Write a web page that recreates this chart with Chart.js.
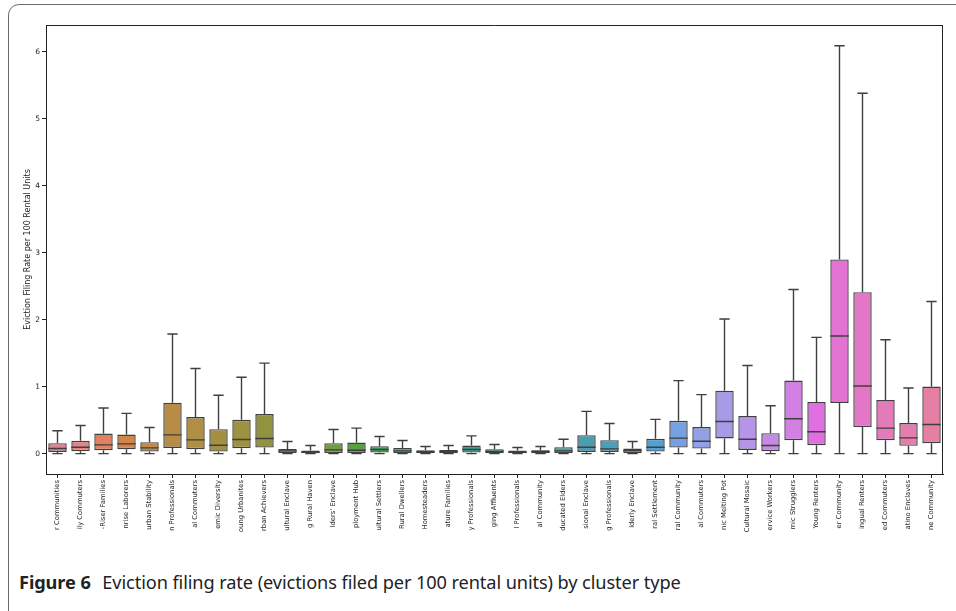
<!DOCTYPE html>
<html>
<head>
<meta charset="utf-8">
<script src="https://cdn.jsdelivr.net/npm/chart.js@4.4.1/dist/chart.umd.min.js"></script>
<style>
  html,body{margin:0;padding:0;background:#fff;width:956px;height:611px;overflow:hidden;}
  #frame{position:absolute;left:8px;top:4px;width:1000px;height:640px;border:1px solid #6b6b6b;border-radius:11px;box-sizing:border-box;}
  #wrap{position:absolute;left:0;top:0;width:956px;height:535px;}
  #caption{position:absolute;left:19px;top:570px;font-family:"Noto Sans",sans-serif;font-size:18.2px;line-height:24px;color:#222;white-space:nowrap;letter-spacing:-0.1px;}
  #caption b{font-weight:700;margin-right:7px;}
</style>
</head>
<body>
<div id="frame"></div>
<div id="wrap"><canvas id="c" width="956" height="535"></canvas></div>
<div id="caption"><b>Figure 6</b> Eviction filing rate (evictions filed per 100 rental units) by cluster type</div>
<script>
// ---- data ----
const categories = [
  "r Communities","ily Commuters","-Riser Families","nrise Laborers","urban Stability",
  "n Professionals","al Commuters","emic Diversity","oung Urbanites","rban Achievers",
  "ultural Enclave","g Rural Haven","lders' Enclave","ployment Hub","ultural Settlers",
  "Rural Dwellers","Homesteaders","ature Families","y Professionals","ging Affluents",
  "l Professionals","al Community","ducated Elders","sional Enclave","g Professionals",
  "lderly Enclave","ral Settlement","ral Community","al Commuters","nic Melting Pot",
  "Cultural Mosaic","ervice Workers","mic Strugglers","Young Renters","er Community",
  "ingual Renters","ed Commuters","atino Enclaves","ne Community"
];
const whiskerLow = [0,0,0,0,0, 0,0,0,0,0, 0,0,0,0,0, 0,0,0,0,0, 0,0,0,0,0, 0,0,0,0,0, 0,0,0,0,0, 0,0,0,0];
const q1 = [0.025,0.035,0.05,0.065,0.03, 0.085,0.065,0.03,0.08,0.09, 0.01,0.005,0.01,0.01,0.015,
  0.005,0,0.005,0.015,0.005, 0,0.005,0.01,0.025,0.025, 0.005,0.03,0.09,0.075,0.225,
  0.055,0.035,0.2,0.125,0.755, 0.395,0.2,0.115,0.155];
const median = [0.075,0.095,0.13,0.145,0.085, 0.28,0.205,0.125,0.21,0.225, 0.04,0.02,0.055,0.05,0.06,
  0.04,0.025,0.03,0.06,0.03, 0.02,0.03,0.04,0.095,0.07, 0.045,0.095,0.23,0.185,0.48,
  0.215,0.12,0.52,0.325,1.755, 1.01,0.38,0.235,0.435];
const q3 = [0.155,0.19,0.30,0.285,0.17, 0.76,0.545,0.365,0.505,0.59, 0.07,0.045,0.155,0.165,0.11,
  0.085,0.05,0.055,0.12,0.065, 0.045,0.05,0.095,0.275,0.2, 0.075,0.22,0.49,0.395,0.94,
  0.56,0.305,1.09,0.77,2.90, 2.41,0.80,0.455,1.0];
const whiskerHigh = [0.34,0.42,0.68,0.60,0.39, 1.785,1.27,0.87,1.14,1.35, 0.18,0.12,0.36,0.38,0.255,
  0.195,0.105,0.12,0.265,0.135, 0.09,0.105,0.215,0.63,0.45, 0.18,0.51,1.09,0.88,2.01,
  1.315,0.715,2.45,1.735,6.09, 5.38,1.70,0.98,2.27];
const yTicks = [0,1,2,3,4,5,6];
const yTitle = "Eviction Filing Rate per 100 Rental Units";

// ---- seaborn-like husl palette, desaturated ----
const M = [[3.2406,-1.5372,-0.4986],[-0.9689,1.8758,0.0415],[0.0557,-0.2040,1.0570]];
const refU=0.19784, refV=0.46834, labE=0.008856, labK=903.3;
function maxChroma(L,H){
  const hr=H/360*2*Math.PI, s=Math.sin(hr), c=Math.cos(hr);
  const sub1=Math.pow(L+16,3)/1560896, sub2=sub1>labE?sub1:L/labK;
  let res=Infinity;
  for(const [m1,m2,m3] of M){
    const top=(0.99915*m1+1.05122*m2+1.14460*m3)*sub2;
    const rb=0.86330*m3-0.17266*m2, lb=0.12949*m3-0.38848*m1;
    const bottom=(rb*s+lb*c)*sub2;
    for(const t of [0,1]){
      const C=L*(top-1.05122*t)/(bottom+0.17266*s*t);
      if(C>0&&C<res) res=C;
    }
  }
  return res;
}
function fInv(t){return Math.pow(t,3)>labE?Math.pow(t,3):(116*t-16)/labK;}
function fromLinear(c){return c<=0.0031308?12.92*c:1.055*Math.pow(c,1/2.4)-0.055;}
function huslToRgb(H,S,L){
  const C=maxChroma(L,H)/100*S, hr=H/360*2*Math.PI;
  const U=Math.cos(hr)*C, V=Math.sin(hr)*C;
  const vY=fInv((L+16)/116), vU=U/(13*L)+refU, vV=V/(13*L)+refV;
  const Y=vY, X=-(9*Y*vU)/((vU-4)*vV-vU*vV), Z=(9*Y-15*vV*Y-vV*X)/(3*vV);
  return M.map(r=>Math.min(1,Math.max(0,fromLinear(r[0]*X+r[1]*Y+r[2]*Z))));
}
function rgbToHls(r,g,b){
  const mx=Math.max(r,g,b), mn=Math.min(r,g,b), l=(mx+mn)/2;
  if(mx===mn) return [0,l,0];
  const d=mx-mn, s=l<=0.5?d/(mx+mn):d/(2-mx-mn);
  let h; const rc=(mx-r)/d, gc=(mx-g)/d, bc=(mx-b)/d;
  if(r===mx) h=bc-gc; else if(g===mx) h=2+rc-bc; else h=4+gc-rc;
  h=((h/6)%1+1)%1; return [h,l,s];
}
function hlsToRgb(h,l,s){
  if(s===0) return [l,l,l];
  const m2=l<=0.5?l*(1+s):l+s-l*s, m1=2*l-m2;
  const v=(hh)=>{hh=((hh%1)+1)%1; if(hh<1/6) return m1+(m2-m1)*hh*6; if(hh<0.5) return m2; if(hh<2/3) return m1+(m2-m1)*(2/3-hh)*6; return m1;};
  return [v(h+1/3),v(h),v(h-1/3)];
}
const n=categories.length;
const rawColors=[];
for(let i=0;i<n;i++){ const h=((i/n)+0.01)%1*359; rawColors.push(huslToRgb(h,0.9*99,0.65*99)); }
const boxColors=rawColors.map(c=>{const [h,l,s]=rgbToHls(...c); const r=hlsToRgb(h,l,s*0.75); return 'rgb('+r.map(x=>Math.round(x*255)).join(',')+')';});
const lum=Math.min(...rawColors.map(c=>rgbToHls(...c)[1]))*0.6;
const g255=Math.round(lum*255);
const lineGray='rgb('+g255+','+g255+','+g255+')';

// ---- plugins ----
const boxPlugin={
  id:'boxExtras',
  afterDatasetsDraw(chart){
    const ctx=chart.ctx, xs=chart.scales.x, ys=chart.scales.y;
    const meta=chart.getDatasetMeta(0);
    ctx.save();
    ctx.strokeStyle=lineGray; ctx.lineWidth=1.4; ctx.lineCap='butt';
    for(let i=0;i<n;i++){
      const x=xs.getPixelForValue(i);
      const w=meta.data[i].width;
      const capW=w*0.28;
      const yHi=ys.getPixelForValue(whiskerHigh[i]), yLo=ys.getPixelForValue(whiskerLow[i]);
      const yQ1=ys.getPixelForValue(q1[i]), yQ3=ys.getPixelForValue(q3[i]), yMed=ys.getPixelForValue(median[i]);
      ctx.beginPath();
      ctx.moveTo(x,yQ3); ctx.lineTo(x,yHi);
      ctx.moveTo(x,yQ1); ctx.lineTo(x,yLo);
      ctx.moveTo(x-capW,yHi); ctx.lineTo(x+capW,yHi);
      ctx.moveTo(x-capW,yLo); ctx.lineTo(x+capW,yLo);
      ctx.moveTo(x-w/2,yMed); ctx.lineTo(x+w/2,yMed);
      ctx.stroke();
    }
    const a=chart.chartArea;
    ctx.strokeStyle='#222'; ctx.lineWidth=1;
    ctx.beginPath();
    ctx.moveTo(a.left,a.top+0.5); ctx.lineTo(a.right,a.top+0.5);
    ctx.moveTo(a.right-0.5,a.top); ctx.lineTo(a.right-0.5,a.bottom);
    ctx.stroke();
    ctx.restore();
  }
};

new Chart(document.getElementById('c'),{
  type:'bar',
  data:{
    labels:categories,
    datasets:[{
      data:q1.map((v,i)=>[v,q3[i]]),
      backgroundColor:boxColors,
      borderColor:lineGray,
      borderWidth:1.4,
      borderSkipped:false,
      barPercentage:0.8,
      categoryPercentage:1.0
    }]
  },
  options:{
    responsive:false,
    animation:false,
    layout:{padding:{left:23,top:25,right:13,bottom:0}},
    plugins:{legend:{display:false},tooltip:{enabled:false}},
    scales:{
      x:{
        type:'category',
        offset:true,
        grid:{display:true,offset:false,drawOnChartArea:false,drawTicks:true,tickLength:4,color:'#222'},
        border:{display:true,color:'#222',width:1},
        ticks:{autoSkip:false,minRotation:90,maxRotation:90,padding:2,color:'#222',font:{family:'DejaVu Sans',size:6.8}},
        afterFit(s){s.height=61;}
      },
      y:{
        min:-0.305,max:6.40,
        afterBuildTicks(s){s.ticks=yTicks.map(v=>({value:v}));},
        grid:{display:true,drawOnChartArea:false,drawTicks:true,tickLength:4,color:'#222'},
        border:{display:true,color:'#222',width:1},
        ticks:{padding:2,color:'#222',font:{family:'DejaVu Sans',size:7.5},callback:(v)=>String(v)},
        title:{display:true,text:yTitle,color:'#222',padding:0,font:{family:'DejaVu Sans',size:8}},
        afterFit(s){s.width=23;}
      }
    }
  },
  plugins:[boxPlugin]
});
</script>
</body>
</html>
